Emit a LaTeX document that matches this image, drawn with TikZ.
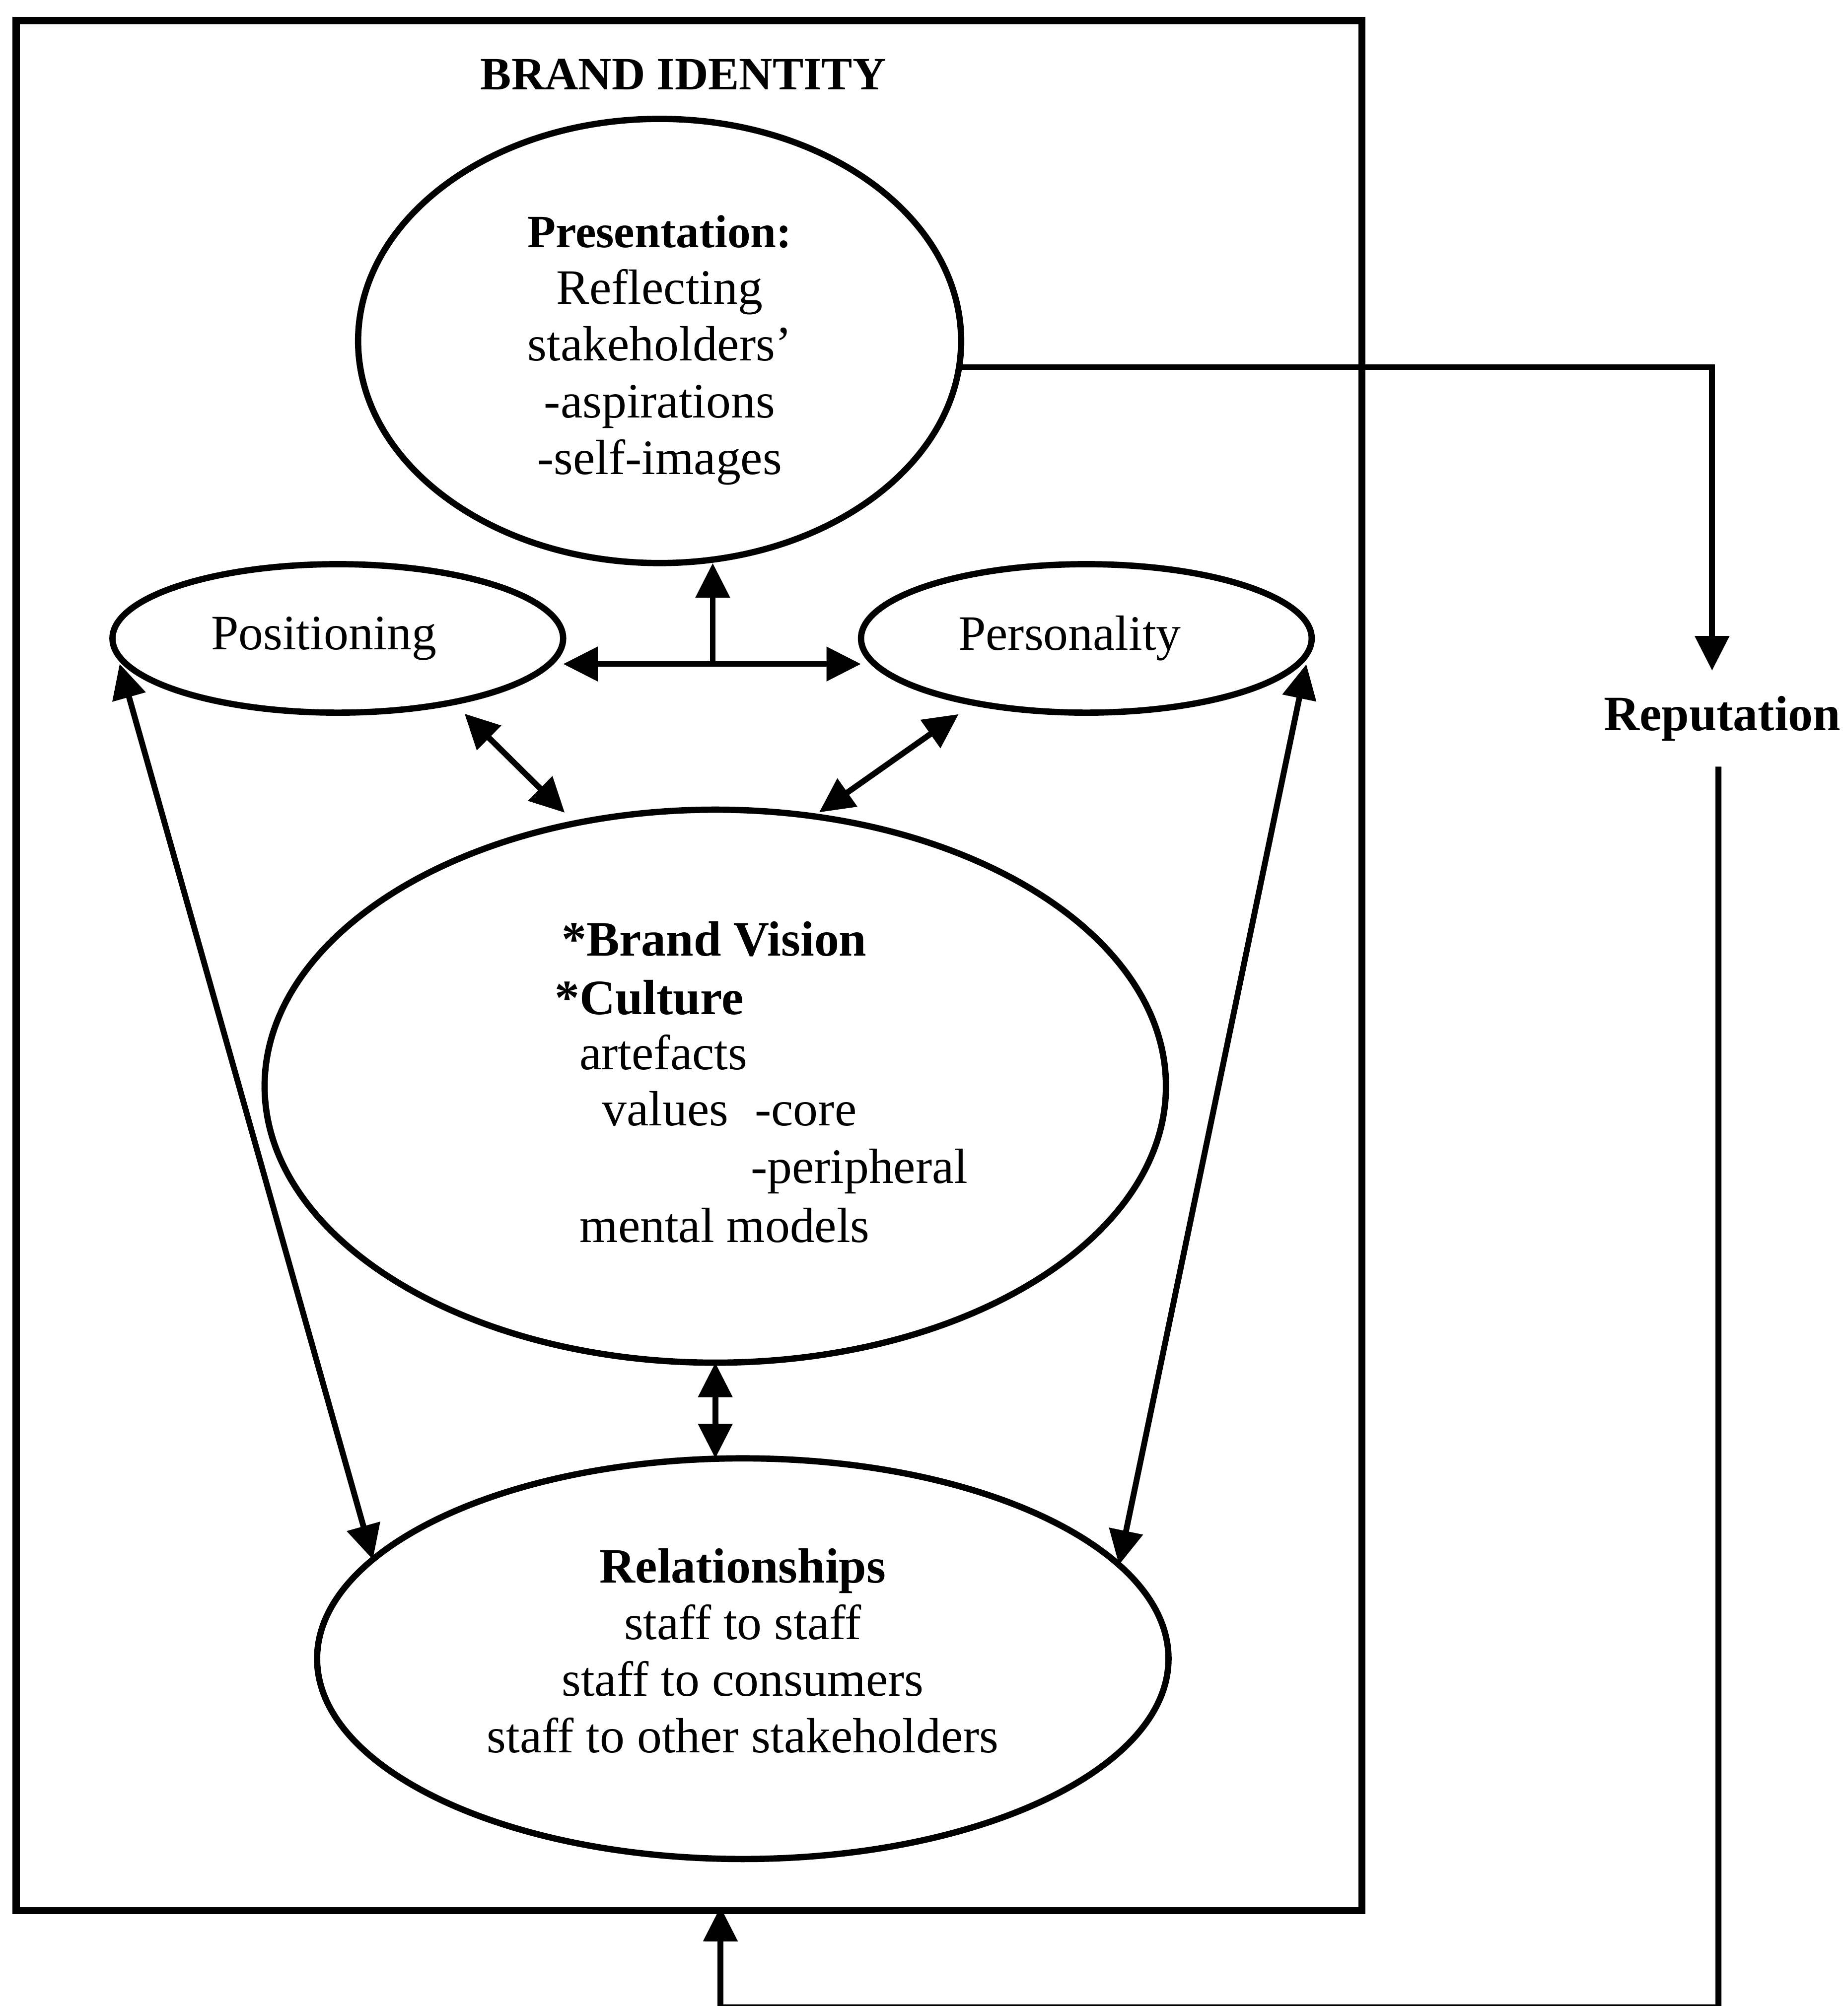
\documentclass[tikz,border=0pt]{standalone}
\usepackage{fontspec}
\setmainfont{Liberation Serif}
\usetikzlibrary{shapes.geometric,arrows.meta}
\begin{document}
\begin{tikzpicture}[x=0.01cm,y=-0.01cm,
  every node/.style={font=\fontsize{11}{12.6}\selectfont, inner sep=0pt, outer sep=0pt},
  bubble/.style={draw, ellipse, line width=1.4pt, align=center},
  frame/.style={draw, rectangle, line width=1.6pt},
  link/.style={line width=1.3pt},
  >={Triangle[length=0.27cm,width=0.26cm]},
  hd/.style={font=\bfseries\fontsize{11}{12.6}\selectfont},
  tx/.style={anchor=base west}]

\useasboundingbox (0,0) rectangle (1444,1568);

% outer frame
\node[frame, minimum width=10.51cm, minimum height=14.765cm] (box) at (538.5,754.75) {};
\node[font=\bfseries\fontsize{10.3}{12}\selectfont] (title) at (534,58) {BRAND IDENTITY};

% ellipses
\node[bubble, minimum width=4.71cm, minimum height=3.47cm] (pres) at (515.5,266.5)
  {\rule{0pt}{11.2pt}{\bfseries\fontsize{10.3}{12.6}\selectfont Presentation:}\\Reflecting\\stakeholders'\\-aspirations\\-self-images};
\node[bubble, minimum width=3.52cm, minimum height=1.16cm] (pos) at (264,499)
  {Positioning\hspace*{6.2pt}};
\node[bubble, minimum width=3.52cm, minimum height=1.16cm] (pers) at (849,499)
  {Personality\hspace*{7.4pt}};
\node[bubble, minimum width=7.04cm, minimum height=4.32cm] (cen) at (559,849) {};
\node[bubble, minimum width=6.65cm, minimum height=3.13cm] (rel) at (580.5,1296.5)
  {\textbf{Relationships}\\staff to staff\\staff to consumers\\staff to other stakeholders\rule[-3.6pt]{0pt}{1pt}};

% text of the central ellipse
\node[tx, hd] (cv1) at (439,747) {*Brand Vision};
\node[tx, hd] (cv2) at (433.5,793) {*Culture};
\node[tx] (cv3) at (453,836) {artefacts};
\node[tx] (cv4) at (470.6,880) {values};
\node[tx] (cv5) at (590,880) {-core};
\node[tx] (cv6) at (586.7,925) {-peripheral};
\node[tx] (cv7) at (453,971) {mental models};

% reputation
\node[hd, anchor=base, inner ysep=0.2cm] (rep) at (1346,571) {Reputation};

% connectors
\coordinate (junc) at (557,519);
\draw[link,<->] (junc -| pos.east) -- (junc -| pers.west);
\draw[link,->] (junc) -- (junc |- pres.south);
\draw[link,<->, shorten <=0.127cm, shorten >=0.118cm] (pos.-29.3) -- (cen.118.2);
\draw[link,<->, shorten <=0.153cm, shorten >=0.054cm] (pers.210.75) -- (cen.70.67);
\draw[link,<->] (cen.south) -- (cen.south |- rel.north);
\draw[link,<->, shorten <=0.206cm] (pos.west) -- (rel.165.4);
\draw[link,<->, shorten <=0.206cm] (pers.east) -- (rel.14.6);

% feedback loop through reputation
\coordinate (loop) at (563,1569);
\draw[link,->] (pres.-5.26) -| ([xshift=-0.08cm]rep.north);
\draw[link,->, shorten >=-0.03cm] ([xshift=-0.03cm]rep.south) |- (loop) -- ([xshift=0.245cm]box.south);

\end{tikzpicture}
\end{document}
